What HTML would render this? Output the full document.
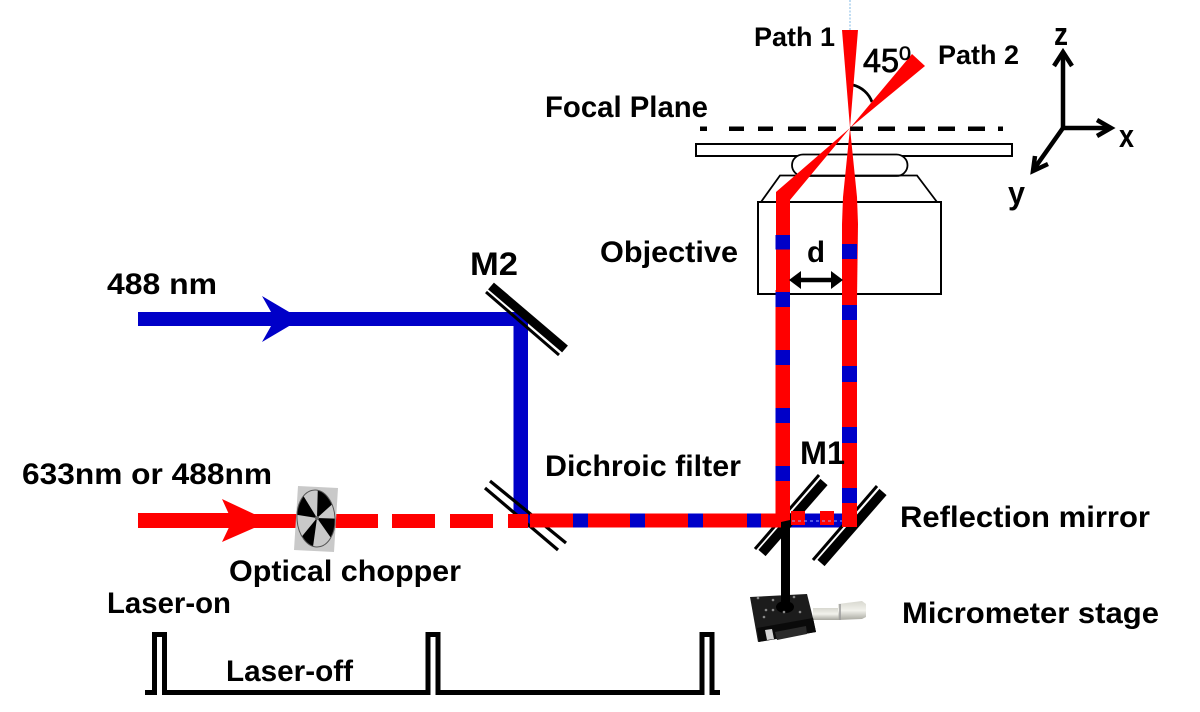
<!DOCTYPE html>
<html><head><meta charset="utf-8"><style>
html,body{margin:0;padding:0;background:#fff;width:1200px;height:712px;overflow:hidden}
svg{display:block}
text{font-family:"Liberation Sans",sans-serif;font-weight:bold;fill:#000;font-size:30px}
</style></head><body>
<svg width="1200" height="712" viewBox="0 0 1200 712" xmlns="http://www.w3.org/2000/svg">
<defs>
<clipPath id="ec"><ellipse cx="316" cy="518.500" rx="19" ry="28.500" transform="rotate(-4 316 518.500)"/></clipPath>
<linearGradient id="th" x1="0" y1="0" x2="0" y2="1"><stop offset="0" stop-color="#d8d8d0"/><stop offset=".5" stop-color="#f2f2ec"/><stop offset="1" stop-color="#a8a8a0"/></linearGradient>
</defs>

<!-- top optics -->
<line x1="850" y1="0" x2="850" y2="30" stroke="#7fb8e6" stroke-width="1" stroke-dasharray="2 1.5"/>
<rect x="696" y="144" width="316" height="12" fill="#fff" stroke="#000" stroke-width="2"/>
<rect x="792" y="154.500" width="115.500" height="21.500" rx="11" ry="11" fill="#fff" stroke="#000" stroke-width="1.800"/>
<polyline points="761,202 780,175.500 917,175.500 937,202" fill="none" stroke="#000" stroke-width="1.800"/>
<rect x="758" y="202" width="183" height="92" fill="#fff" stroke="#000" stroke-width="2"/>
<g fill="#000"><rect x="700" y="126.500" width="7" height="4.500"/><rect x="729" y="126.500" width="15" height="4.500"/><rect x="758" y="126.500" width="15" height="4.500"/><rect x="788" y="126.500" width="18" height="4.500"/><rect x="818" y="126.500" width="18" height="4.500"/><rect x="850" y="126.500" width="13" height="4.500"/><rect x="878" y="126.500" width="17" height="4.500"/><rect x="908" y="126.500" width="17" height="4.500"/><rect x="938" y="126.500" width="17" height="4.500"/><rect x="968" y="126.500" width="17" height="4.500"/><rect x="998" y="126.500" width="5" height="4.500"/></g>
<path d="M853 85 A27 27 0 0 1 872 102" fill="none" stroke="#000" stroke-width="2.800"/>
<g fill="#f00">
<polygon points="842,30 858,30 850,128"/>
<polygon points="912,54 925,66 850,128"/>
<polygon points="850,128 776,192 776,300 790,300 790,200"/>
<polygon points="850,128 843,197 842,224 842,300 857,300 858,224 857,197"/>
</g>

<!-- blue beams -->
<g fill="#0000c8">
<rect x="138" y="312" width="389" height="14"/>
<polygon points="262,296 301,319 262,342 275,319"/>
<rect x="513.500" y="312" width="14.500" height="215"/>
<rect x="527" y="513.500" width="315" height="14"/>
</g>

<!-- M2 and dichroic mirrors -->
<line x1="491" y1="286" x2="565" y2="349" stroke="#000" stroke-width="9"/>
<line x1="486" y1="292" x2="559" y2="355" stroke="#000" stroke-width="3"/>
<line x1="490" y1="481" x2="566" y2="543" stroke="#000" stroke-width="3.200"/>
<line x1="485" y1="488" x2="558" y2="550" stroke="#000" stroke-width="3.200"/>

<!-- M1 and reflection mirror -->
<line x1="755" y1="549" x2="819" y2="475" stroke="#000" stroke-width="3"/>
<line x1="762" y1="553" x2="824" y2="482" stroke="#000" stroke-width="9.500"/>
<line x1="813" y1="560" x2="877" y2="486" stroke="#000" stroke-width="3"/>
<line x1="821" y1="563" x2="883" y2="492" stroke="#000" stroke-width="9.500"/>

<!-- red beams -->
<g fill="#f00">
<rect x="138" y="513" width="100" height="15"/>
<polygon points="222,499 254,514 298,514 298,528 254,528 222,542 232,521"/>
<rect x="334" y="514" width="44" height="14"/>
<rect x="392" y="514" width="43" height="14"/>
<rect x="450" y="514" width="43" height="14"/>
<rect x="508" y="514" width="20" height="14"/>
<rect x="530" y="513.500" width="43" height="14"/>
<rect x="588" y="513.500" width="42" height="14"/>
<rect x="645" y="513.500" width="43" height="14"/>
<rect x="703" y="513.500" width="44" height="14"/>
<rect x="761" y="513.500" width="29" height="14"/>
<rect x="775.500" y="290" width="14.500" height="237"/>
<rect x="791" y="511" width="14" height="14"/>
<rect x="820" y="511" width="14" height="14"/>
<rect x="842" y="290" width="15" height="237"/>
</g>
<line x1="792" y1="521" x2="842" y2="521" stroke="#9fa8ff" stroke-width="1" stroke-dasharray="3 3"/>

<!-- blue segments on verticals -->
<g fill="#0000c8">
<rect x="775.500" y="235" width="14.500" height="14.500"/>
<rect x="775.500" y="292" width="14.500" height="15"/>
<rect x="775.500" y="350" width="14.500" height="15"/>
<rect x="775.500" y="408" width="14.500" height="15"/>
<rect x="775.500" y="466" width="14.500" height="15"/>
<rect x="842" y="244" width="15" height="15"/>
<rect x="842" y="305" width="15" height="15"/>
<rect x="842" y="366" width="15" height="16"/>
<rect x="842" y="427" width="15" height="16"/>
<rect x="842" y="488" width="15" height="15"/>
</g>

<!-- d arrow -->
<line x1="794" y1="280" x2="838" y2="280" stroke="#000" stroke-width="4.500"/>
<polygon points="789,280 801,271 801,289" fill="#000"/>
<polygon points="843,280 831,271 831,289" fill="#000"/>

<!-- stage -->
<rect x="813" y="608" width="26" height="12" fill="url(#th)"/>
<polygon points="838,604 862,601 866,604 866,617 862,619 838,620" fill="url(#th)"/>
<line x1="840" y1="604" x2="840" y2="620" stroke="#999" stroke-width="1.500"/>
<polygon points="750,597 807,594 813,618 816,632 758,642" fill="#1c1c1c"/>
<polygon points="757,628 813,618 816,632 759,642" fill="#0a0a0a"/>
<polygon points="775,632 806,626 807,634 777,640" fill="#2a2a2a"/>
<polygon points="765,630 772,629 774,639 767,640" fill="#d5d5d5"/>
<polygon points="781,522 790,520 790,606 781,606" fill="#000"/>
<ellipse cx="785" cy="607" rx="9" ry="6" fill="#000"/>
<g fill="#888"><circle cx="758" cy="598" r="1.300"/><circle cx="773" cy="600" r="1.300"/><circle cx="794" cy="597" r="1.300"/><circle cx="766" cy="610" r="1.300"/><circle cx="773" cy="610" r="1.300"/><circle cx="784" cy="612" r="1.300"/><circle cx="800" cy="612" r="1.300"/><circle cx="764" cy="617" r="1.300"/></g>

<!-- chopper -->
<polygon points="298,486 338,488 334,552 294,550" fill="#c9c9c9"/>
<g clip-path="url(#ec)" fill="#000">
<polygon points="317,518 318,482 338,499"/>
<polygon points="317,518 301,492 292,514"/>
<polygon points="317,518 345,519 338,548"/>
<polygon points="317,518 299,540 312,554"/>
</g>
<ellipse cx="316" cy="518.500" rx="19" ry="28.500" transform="rotate(-4 316 518.500)" fill="none" stroke="#555" stroke-width="1"/>
<circle cx="317" cy="518" r="2" fill="#666"/>

<!-- pulses -->
<polyline points="145,692.500 154.500,692.500 154.500,634.500 164.500,634.500 164.500,692.500 428,692.500 428,634.500 438,634.500 438,692.500 702,692.500 702,634.500 712,634.500 712,692.500 720,692.500" fill="none" stroke="#000" stroke-width="5"/>

<!-- axes -->
<g fill="none" stroke="#000" stroke-width="4.500">
<line x1="1063" y1="54" x2="1063" y2="128"/>
<polyline points="1054,66 1063,52 1072,66"/>
<line x1="1061" y1="128" x2="1110" y2="128"/>
<polyline points="1097,120 1111,128 1097,136"/>
<line x1="1063" y1="128" x2="1034" y2="169"/>
<polyline points="1035,156 1033,171 1048,164"/>
</g>

<!-- labels -->
<text x="754" y="46" textLength="81" lengthAdjust="spacingAndGlyphs" style="font-size:27px">Path 1</text>
<text x="938" y="64" textLength="81" lengthAdjust="spacingAndGlyphs" style="font-size:27px">Path 2</text>
<text x="863" y="72" textLength="36" lengthAdjust="spacingAndGlyphs" style="font-size:33px;font-weight:normal;stroke:#000;stroke-width:.8px">45</text>
<text x="899" y="60" textLength="12" lengthAdjust="spacingAndGlyphs" style="font-size:19px;font-weight:normal;stroke:#000;stroke-width:.5px">0</text>
<text x="545" y="117" textLength="163" lengthAdjust="spacingAndGlyphs">Focal Plane</text>
<text x="1054" y="45" textLength="14" lengthAdjust="spacingAndGlyphs" style="font-size:32px">z</text>
<text x="1119" y="147" textLength="15" lengthAdjust="spacingAndGlyphs" style="font-size:32px">x</text>
<text x="1008" y="204" textLength="17" lengthAdjust="spacingAndGlyphs" style="font-size:32px">y</text>
<text x="600" y="262" textLength="138" lengthAdjust="spacingAndGlyphs">Objective</text>
<text x="807" y="262" textLength="18" lengthAdjust="spacingAndGlyphs">d</text>
<text x="470" y="275" textLength="48" lengthAdjust="spacingAndGlyphs" style="font-size:32px">M2</text>
<text x="107" y="294" textLength="110" lengthAdjust="spacingAndGlyphs">488 nm</text>
<text x="22" y="484" textLength="250" lengthAdjust="spacingAndGlyphs">633nm or 488nm</text>
<text x="545" y="476" textLength="196" lengthAdjust="spacingAndGlyphs">Dichroic filter</text>
<text x="800" y="464" textLength="45" lengthAdjust="spacingAndGlyphs" style="font-size:32px">M1</text>
<text x="900" y="527" textLength="250" lengthAdjust="spacingAndGlyphs">Reflection mirror</text>
<text x="229" y="581" textLength="232" lengthAdjust="spacingAndGlyphs">Optical chopper</text>
<text x="107" y="613" textLength="124" lengthAdjust="spacingAndGlyphs">Laser-on</text>
<text x="902" y="623" textLength="257" lengthAdjust="spacingAndGlyphs">Micrometer stage</text>
<text x="226" y="681" textLength="127" lengthAdjust="spacingAndGlyphs">Laser-off</text>
</svg>
</body></html>
